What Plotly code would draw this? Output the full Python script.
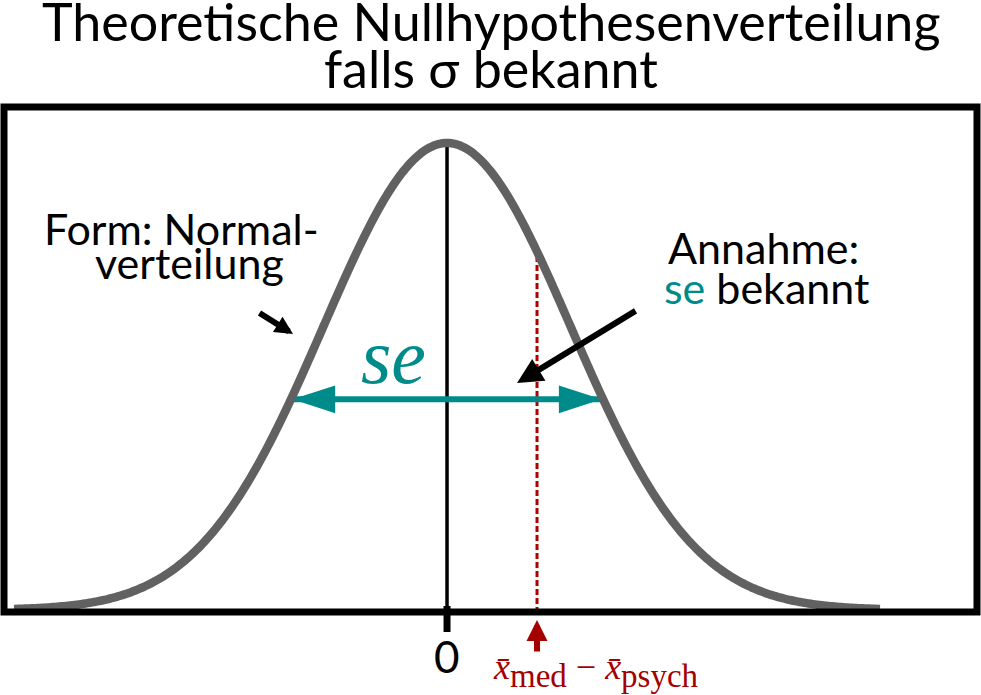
import numpy as np
import plotly.graph_objects as go

# ---- data ----
x_curve = np.linspace(-3.5, 3.5, 401)
y_curve = np.exp(-x_curve**2 / 2) / np.sqrt(2 * np.pi)   # standard normal density
se_half = 1.25          # half width of the se arrow
se_level = 0.18         # height of the se arrow
diff_x = 0.7275         # observed difference x̄_med − x̄_psych
tick_vals = [0]
tick_labels = ["0"]

title_lines = ["Theoretische Nullhypothesenverteilung", "falls σ bekannt"]
form_lines = ["Form: Normal-", "verteilung"]
ann_lines = ["Annahme:", "<span style='color:#008B8B'>se</span> bekannt"]
se_label = "<i>se</i>"
diff_label = ("<i>x̄</i><sub><span style='font-size:33px'>med</span></sub>"
              " − <i>x̄</i><sub><span style='font-size:33px'>psych</span></sub>")

TEAL = "#008B8B"
GRAY = "#616161"
RED = "#B00000"
DARKRED = "#A50000"

def pdf(v):
    return float(np.exp(-v**2 / 2) / np.sqrt(2 * np.pi))

xmin, xmax = -3.581, 4.284
ymin, ymax = -0.00171, 0.4297

# paper-coordinate helpers (layout only)
PLOT_LEFT, PLOT_RIGHT = 4, 977
PLOT_TOP, PLOT_BOT = 107, 612
def py(pixel):
    return (PLOT_BOT - pixel) / (PLOT_BOT - PLOT_TOP)
def pxp(pixel):
    return (pixel - PLOT_LEFT) / (PLOT_RIGHT - PLOT_LEFT)
def px_from_data(v):
    return (v - xmin) / (xmax - xmin)

fig = go.Figure()

# red dashed line at observed difference (drawn from the curve downwards)
fig.add_trace(go.Scatter(x=[diff_x, diff_x], y=[pdf(diff_x) + 0.004, ymin], mode="lines",
                         line=dict(color=RED, width=3, dash="6px,3px"),
                         hoverinfo="skip", showlegend=False))
# vertical line at 0
fig.add_trace(go.Scatter(x=[tick_vals[0], tick_vals[0]], y=[ymin, pdf(tick_vals[0])], mode="lines",
                         line=dict(color="black", width=3.5),
                         hoverinfo="skip", showlegend=False))
# se double arrow
fig.add_trace(go.Scatter(x=[-se_half, se_half], y=[se_level, se_level], mode="lines+markers",
                         line=dict(color=TEAL, width=6),
                         marker=dict(symbol="arrow", size=45, angle=[-90, 90], color=TEAL,
                                     line=dict(width=0)),
                         hoverinfo="skip", showlegend=False))
# normal curve
fig.add_trace(go.Scatter(x=x_curve, y=y_curve, mode="lines",
                         line=dict(color=GRAY, width=8.5, simplify=False),
                         hoverinfo="skip", showlegend=False))

FONT = "Lato"
def txt(text, x, y, size, color="black", family=FONT, xref="paper", yref="paper",
        yanchor="middle"):
    return dict(text=text, xref=xref, yref=yref, x=x, y=y, showarrow=False,
                xanchor="center", yanchor=yanchor,
                font=dict(family=family, size=size, color=color))

annotations = [
    txt(title_lines[0], 0.5, py(21), 52),
    txt(title_lines[1], 0.5, py(68), 52),
    txt(form_lines[0], pxp(181), py(228), 43),
    txt(form_lines[1], pxp(189), py(262), 43),
    txt(ann_lines[0], pxp(763), py(247), 43),
    txt(ann_lines[1], pxp(766), py(287), 43),
    txt(se_label, -0.43, se_level - 0.002, 78, color=TEAL, family="Liberation Serif",
        xref="x", yref="y", yanchor="bottom"),
    dict(text=tick_labels[0], xref="x", yref="paper", x=tick_vals[0], y=py(656),
         showarrow=False, xanchor="center", yanchor="middle",
         font=dict(family=FONT, size=44, color="black")),
    txt(diff_label, pxp(596), py(670), 36, color=DARKRED, family="Liberation Serif"),
    # arrows
    dict(text="", xref="x", yref="y", x=-1.245, y=0.2358, ax=-35, ay=-22,
         showarrow=True, arrowhead=2, arrowwidth=6, arrowsize=0.6, arrowcolor="black"),
    dict(text="", xref="x", yref="y", x=0.566, y=0.1939, ax=120, ay=-73,
         showarrow=True, arrowhead=2, arrowwidth=6, arrowsize=0.85, arrowcolor="black"),
    dict(text="", xref="x", yref="paper", x=diff_x, y=py(620), ax=0, ay=33,
         showarrow=True, arrowhead=2, arrowwidth=6, arrowsize=0.7, arrowcolor=DARKRED),
]

shapes = [
    dict(type="rect", xref="paper", yref="paper", x0=0, x1=1, y0=0, y1=1,
         line=dict(color="black", width=7), layer="above"),
    dict(type="line", xref="paper", yref="paper",
         x0=px_from_data(tick_vals[0]), x1=px_from_data(tick_vals[0]),
         y0=py(606), y1=py(632), line=dict(color="black", width=7)),
]

fig.update_layout(
    width=981, height=695,
    margin=dict(l=PLOT_LEFT, r=981 - PLOT_RIGHT, t=PLOT_TOP, b=695 - PLOT_BOT, pad=0),
    paper_bgcolor="white", plot_bgcolor="white",
    xaxis=dict(range=[xmin, xmax], visible=False, fixedrange=True),
    yaxis=dict(range=[ymin, ymax], visible=False, fixedrange=True),
    annotations=annotations, shapes=shapes, showlegend=False,
)

fig.write_html("out.html", config={"displayModeBar": False},
               post_script="document.body.style.margin='0';document.body.style.overflow='hidden';")
